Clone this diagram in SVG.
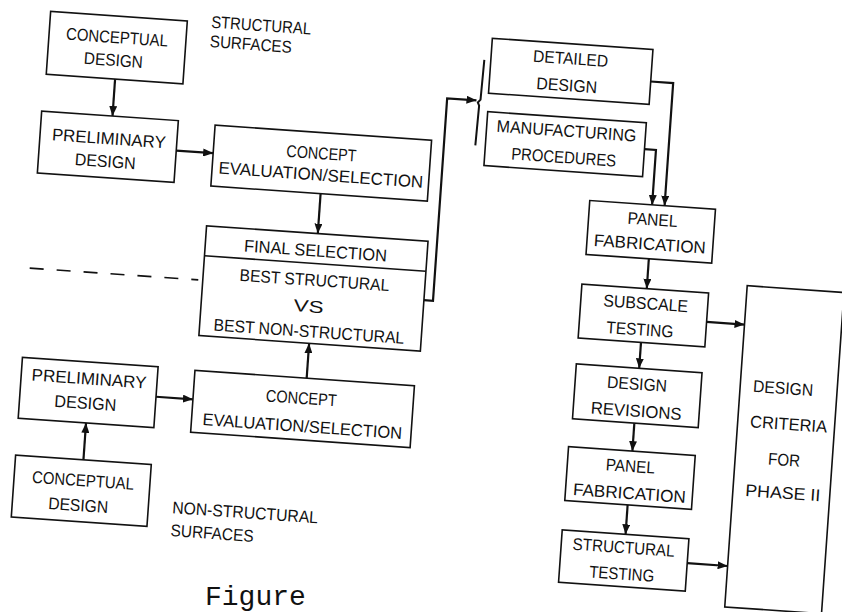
<svg xmlns="http://www.w3.org/2000/svg" width="842" height="612" viewBox="0 0 842 612">
<defs>
<marker id="ah" viewBox="0 0 10 8" refX="10" refY="4" markerWidth="10" markerHeight="8" markerUnits="userSpaceOnUse" orient="auto">
<path d="M0,0 L10,4 L0,8 z" fill="#111"/>
</marker>
<style>
.box{fill:#fff;stroke:#111;stroke-width:1.6}
.t{font-family:"Liberation Sans",Arial,sans-serif;font-size:17px;fill:#111;text-anchor:middle}
.l{font-family:"Liberation Sans",Arial,sans-serif;font-size:17px;fill:#111}
.c{fill:none;stroke:#111;stroke-width:2.2;marker-end:url(#ah)}
.d{fill:none;stroke:#111;stroke-width:1.6;stroke-dasharray:14 13}
.br{fill:none;stroke:#111;stroke-width:2}
</style>
</defs>
<rect width="842" height="612" fill="#fff"/>
<g transform="rotate(4 421 306)">
<g id="connectors">
<path class="c" d="M100,101 V138"/>
<path class="c" d="M166,168 H203"/>
<path class="c" d="M313,201 V241"/>
<path class="c" d="M312,386 V351"/>
<path class="c" d="M95,483 V446"/>
<path class="c" d="M163,415 H200"/>
<path class="c" d="M423.5,300 H432.6 V97 H462"/>
<path class="c" d="M634.5,66 H657 V189"/>
<path class="c" d="M633,134 H644.5 V189"/>
<path class="c" d="M645,243 V273"/>
<path class="c" d="M643,327 V353"/>
<path class="c" d="M642,408 V436"/>
<path class="c" d="M641,490 V519.5"/>
<path class="c" d="M707,302 H745"/>
<path class="c" d="M704.5,544 H745"/>
<path class="br" d="M467,56 L466,96 L463.5,99 L465,102 L464,142"/>
<path class="d" d="M28,295.5 H197"/>
</g>
<g id="structural-label">
<text class="l" x="192" y="43" textLength="100" lengthAdjust="spacingAndGlyphs">STRUCTURAL</text>
<text class="l" x="192" y="62.5" textLength="82" lengthAdjust="spacingAndGlyphs">SURFACES</text>
</g>
<g id="nonstructural-label">
<text class="l" x="187" y="530" textLength="146" lengthAdjust="spacingAndGlyphs">NON-STRUCTURAL</text>
<text class="l" x="187" y="553" textLength="83" lengthAdjust="spacingAndGlyphs">SURFACES</text>
</g>
<g id="s-conceptual">
<rect class="box" x="31" y="38" width="137" height="63"/>
<text class="t" x="99" y="65" textLength="102" lengthAdjust="spacingAndGlyphs">CONCEPTUAL</text>
<text class="t" x="97" y="88" textLength="59" lengthAdjust="spacingAndGlyphs">DESIGN</text>
</g>
<g id="s-preliminary">
<rect class="box" x="29" y="138" width="137" height="62"/>
<text class="t" x="98" y="166.5" textLength="114" lengthAdjust="spacingAndGlyphs">PRELIMINARY</text>
<text class="t" x="96" y="189.5" textLength="61" lengthAdjust="spacingAndGlyphs">DESIGN</text>
</g>
<g id="s-evaluation">
<rect class="box" x="203" y="140" width="217" height="61"/>
<text class="t" x="311" y="166.5" textLength="70" lengthAdjust="spacingAndGlyphs">CONCEPT</text>
<text class="t" x="312" y="188" textLength="205" lengthAdjust="spacingAndGlyphs">EVALUATION/SELECTION</text>
</g>
<g id="final-selection">
<rect class="box" x="201.5" y="241" width="222" height="110"/>
<line x1="201.5" y1="271" x2="423.5" y2="271" stroke="#111" stroke-width="1.6"/>
<text class="t" x="312" y="264" textLength="143" lengthAdjust="spacingAndGlyphs">FINAL SELECTION</text>
<text class="t" x="313" y="293.5" textLength="150" lengthAdjust="spacingAndGlyphs">BEST STRUCTURAL</text>
<text class="t" x="309" y="320" textLength="30" lengthAdjust="spacingAndGlyphs">VS</text>
<text class="t" x="311" y="345" textLength="191" lengthAdjust="spacingAndGlyphs">BEST NON-STRUCTURAL</text>
</g>
<g id="n-preliminary">
<rect class="box" x="27" y="385" width="136" height="61"/>
<text class="t" x="95" y="407.5" textLength="115" lengthAdjust="spacingAndGlyphs">PRELIMINARY</text>
<text class="t" x="93" y="432" textLength="62" lengthAdjust="spacingAndGlyphs">DESIGN</text>
</g>
<g id="n-evaluation">
<rect class="box" x="200" y="386" width="220" height="62"/>
<text class="t" x="308" y="412" textLength="71" lengthAdjust="spacingAndGlyphs">CONCEPT</text>
<text class="t" x="311" y="440" textLength="200" lengthAdjust="spacingAndGlyphs">EVALUATION/SELECTION</text>
</g>
<g id="n-conceptual">
<rect class="box" x="27" y="483" width="136" height="62"/>
<text class="t" x="96" y="509.5" textLength="102" lengthAdjust="spacingAndGlyphs">CONCEPTUAL</text>
<text class="t" x="93" y="534.5" textLength="60" lengthAdjust="spacingAndGlyphs">DESIGN</text>
</g>
<g id="detailed-design">
<rect class="box" x="473.5" y="34" width="161" height="55"/>
<text class="t" x="553" y="54.5" textLength="75" lengthAdjust="spacingAndGlyphs">DETAILED</text>
<text class="t" x="551" y="81.5" textLength="61" lengthAdjust="spacingAndGlyphs">DESIGN</text>
</g>
<g id="manufacturing">
<rect class="box" x="474" y="107.5" width="159" height="54"/>
<text class="t" x="554" y="127" textLength="140" lengthAdjust="spacingAndGlyphs">MANUFACTURING</text>
<text class="t" x="553" y="153.5" textLength="105" lengthAdjust="spacingAndGlyphs">PROCEDURES</text>
</g>
<g id="panel-fab-1">
<rect class="box" x="582" y="189" width="126" height="54"/>
<text class="t" x="646" y="209.5" textLength="50" lengthAdjust="spacingAndGlyphs">PANEL</text>
<text class="t" x="645" y="234" textLength="112" lengthAdjust="spacingAndGlyphs">FABRICATION</text>
</g>
<g id="subscale-testing">
<rect class="box" x="580" y="273" width="127" height="54"/>
<text class="t" x="645" y="293.5" textLength="85" lengthAdjust="spacingAndGlyphs">SUBSCALE</text>
<text class="t" x="641" y="320" textLength="67" lengthAdjust="spacingAndGlyphs">TESTING</text>
</g>
<g id="design-revisions">
<rect class="box" x="580" y="353" width="126" height="55"/>
<text class="t" x="642" y="374.5" textLength="60" lengthAdjust="spacingAndGlyphs">DESIGN</text>
<text class="t" x="643" y="401.5" textLength="91" lengthAdjust="spacingAndGlyphs">REVISIONS</text>
</g>
<g id="panel-fab-2">
<rect class="box" x="578" y="436" width="127" height="54"/>
<text class="t" x="641" y="457" textLength="49" lengthAdjust="spacingAndGlyphs">PANEL</text>
<text class="t" x="642" y="484" textLength="113" lengthAdjust="spacingAndGlyphs">FABRICATION</text>
</g>
<g id="structural-testing">
<rect class="box" x="577.5" y="519.5" width="127" height="52.5"/>
<text class="t" x="640" y="538.5" textLength="102" lengthAdjust="spacingAndGlyphs">STRUCTURAL</text>
<text class="t" x="640" y="565" textLength="65" lengthAdjust="spacingAndGlyphs">TESTING</text>
</g>
<g id="design-criteria">
<rect class="box" x="745" y="263" width="97" height="322"/>
<text class="t" x="788" y="368.5" textLength="60" lengthAdjust="spacingAndGlyphs">DESIGN</text>
<text class="t" x="796" y="404" textLength="77" lengthAdjust="spacingAndGlyphs">CRITERIA</text>
<text class="t" x="794" y="440" textLength="32" lengthAdjust="spacingAndGlyphs">FOR</text>
<text class="t" x="795" y="473" textLength="75" lengthAdjust="spacingAndGlyphs">PHASE II</text>
</g>
</g>
<text x="205" y="605" font-family="'Liberation Mono','Courier New',monospace" font-size="28" fill="#111">Figure</text>
</svg>
